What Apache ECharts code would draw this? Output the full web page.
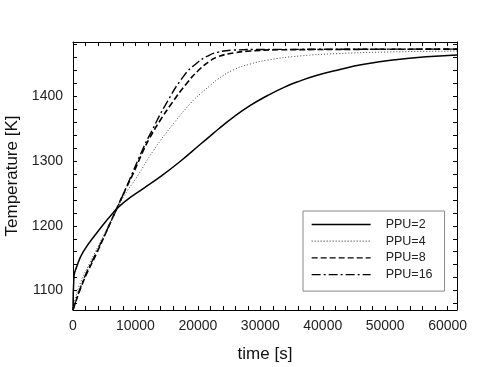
<!DOCTYPE html>
<html>
<head>
<meta charset="utf-8">
<script src="https://cdn.jsdelivr.net/npm/echarts@6/dist/echarts.min.js"></script>
<style>
html,body{margin:0;padding:0;background:#fff;}
#chart{width:480px;height:367px;}
</style>
</head>
<body>
<div id="chart"></div>
<script>
// ---- data ----
var seriesNames = ['PPU=2', 'PPU=4', 'PPU=8', 'PPU=16'];

var timePPU2 = [0, 150, 600, 1650, 3800, 6500, 8100, 11300, 14000, 17100, 20400, 22000, 23100, 25700, 28400, 31100, 33800, 36400, 39100, 42300, 46600, 52000, 57300, 61500];
var tempPPU2 = [1070, 1121, 1137, 1160, 1189, 1221, 1236, 1258, 1276, 1299, 1326, 1339, 1348, 1368, 1386, 1401, 1414, 1424, 1432.5, 1440.5, 1449.5, 1457, 1461.5, 1464];

var timePPU4 = [0, 300, 1100, 2700, 4900, 6500, 8100, 10200, 13000, 16100, 18800, 20400, 22000, 23100, 25700, 28400, 31100, 36400, 42300, 50000, 61500];
var tempPPU4 = [1070, 1085, 1110, 1143, 1185, 1216, 1245, 1275, 1318, 1358, 1389, 1404, 1417, 1426, 1441, 1450, 1456, 1462.5, 1466, 1468.5, 1470];

var timePPU8 = [0, 1650, 3800, 5900, 7000, 8600, 9650, 11250, 12300, 13900, 15500, 18200, 20400, 22000, 23100, 25700, 28400, 33000, 61500];
var tempPPU8 = [1070, 1114, 1158, 1203, 1227, 1260, 1281, 1316, 1336, 1362, 1385, 1420, 1443, 1455, 1461, 1467, 1470, 1472, 1473];

var timePPU16 = [0, 1650, 3800, 5900, 7000, 8600, 11250, 12800, 14700, 17700, 19900, 21500, 23100, 25700, 30000, 61500];
var tempPPU16 = [1070, 1116, 1160, 1203, 1226, 1261, 1320, 1350, 1385, 1431, 1452, 1462, 1468, 1471.5, 1472.5, 1473];

var xTickLabels = [0, 10000, 20000, 30000, 40000, 50000, 60000];
var yTickLabels = [1100, 1200, 1300, 1400];

// ---- chart ----
function pairs(t, v) { return t.map(function (x, i) { return [x, v[i]]; }); }
var xMinor = []; for (var a = 0; a <= 60000; a += 2000) xMinor.push(a);
var yMinor = []; for (var b = 1080; b <= 1480; b += 20) yMinor.push(b);

var font = 'Liberation Sans, Arial, sans-serif';
var xMin = 0, xMax = 61500, yMin = 1070, yMax = 1484;
function plain(v) { return String(v); }

function xAx(pos, show) {
  return {
    type: 'value', position: pos, min: xMin, max: xMax,
    axisLine: { show: true, onZero: false, lineStyle: { color: '#000', width: 1 } },
    axisTick: { show: true, inside: true, length: 4, customValues: xMinor, lineStyle: { color: '#000' } },
    axisLabel: { show: show, customValues: xTickLabels, formatter: plain, margin: 9, color: '#222', fontSize: 14, fontFamily: font },
    splitLine: { show: false }
  };
}
function yAx(pos, show) {
  return {
    type: 'value', position: pos, min: yMin, max: yMax,
    axisLine: { show: true, onZero: false, lineStyle: { color: '#000', width: 1 } },
    axisTick: { show: true, inside: true, length: 4, customValues: yMinor, lineStyle: { color: '#000' } },
    axisLabel: { show: show, customValues: yTickLabels, formatter: plain, margin: 10, color: '#222', fontSize: 14, fontFamily: font },
    splitLine: { show: false }
  };
}

var xBottom = xAx('bottom', true);
xBottom.name = 'time [s]'; xBottom.nameLocation = 'middle'; xBottom.nameGap = 36;
xBottom.nameTextStyle = { color: '#111', fontSize: 17, fontFamily: font };
var yLeft = yAx('left', true);
yLeft.name = 'Temperature [K]'; yLeft.nameLocation = 'middle'; yLeft.nameGap = 51;
yLeft.nameTextStyle = { color: '#111', fontSize: 17, fontFamily: font };

var styles = [
  { color: '#000', width: 1.5, type: 'solid' },
  { color: '#444', width: 1, type: [1, 2] },
  { color: '#000', width: 1.6, type: [6, 3] },
  { color: '#000', width: 1.4, type: [9, 3, 2, 3] }
];
var datasets = [pairs(timePPU2, tempPPU2), pairs(timePPU4, tempPPU4), pairs(timePPU8, tempPPU8), pairs(timePPU16, tempPPU16)];

var series = seriesNames.map(function (n, i) {
  return {
    name: n, type: 'line', data: datasets[i], xAxisIndex: 0, yAxisIndex: 0,
    symbol: 'none', smooth: 0.5,
    lineStyle: styles[i], itemStyle: { color: styles[i].color },
    animation: false, z: 4 - i
  };
});

var chart = echarts.init(document.getElementById('chart'), null, { renderer: 'canvas' });
chart.setOption({
  animation: false,
  backgroundColor: '#fff',
  grid: { left: 73, right: 23, top: 42, bottom: 57, containLabel: false, outerBoundsMode: 'none' },
  xAxis: [xBottom, xAx('top', false)],
  yAxis: [yLeft, yAx('right', false)],
  legend: {
    orient: 'vertical', left: 303, top: 211,
    data: seriesNames,
    itemWidth: 59, itemHeight: 12, itemGap: 3.7,
    padding: [7, 12, 10, 8],
    borderColor: '#888', borderWidth: 1, borderRadius: 0,
    textStyle: { color: '#222', fontSize: 12.5, fontFamily: font, padding: [0, 0, 0, 10] },
    itemStyle: { opacity: 0, borderWidth: 0 },
    lineStyle: { width: 1.3 }
  },
  series: series
});
</script>
</body>
</html>
